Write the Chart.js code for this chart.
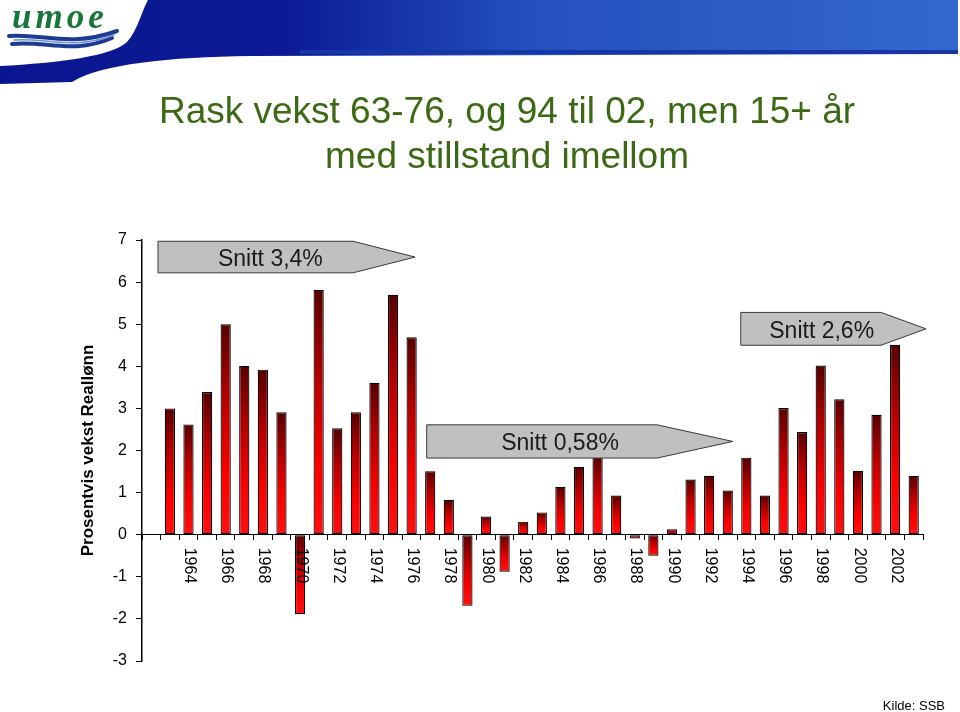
<!DOCTYPE html>
<html>
<head>
<meta charset="utf-8">
<script src="https://cdn.jsdelivr.net/npm/chart.js@4.4.1/dist/chart.umd.min.js"></script>
<style>
  html, body { margin: 0; padding: 0; background: #fff; }
  canvas { display: block; }
</style>
</head>
<body>
<canvas id="chart" width="960" height="712"></canvas>
<script>
// Real wage growth per year, percent (1962 is an empty slot on the axis)
const years = ['1962', '1963', '1964', '1965', '1966', '1967', '1968', '1969', '1970', '1971',
  '1972', '1973', '1974', '1975', '1976', '1977', '1978', '1979', '1980', '1981',
  '1982', '1983', '1984', '1985', '1986', '1987', '1988', '1989', '1990', '1991',
  '1992', '1993', '1994', '1995', '1996', '1997', '1998', '1999', '2000', '2001',
  '2002', '2003']
const growth = [null, 3.0, 2.62, 3.39, 5.0, 4.01, 3.92, 2.91, -1.89, 5.82,
  2.53, 2.91, 3.61, 5.70, 4.69, 1.51, 0.83, -1.69, 0.43, -0.88,
  0.31, 0.53, 1.14, 1.61, 1.85, 0.93, -0.09, -0.50, 0.13, 1.31,
  1.40, 1.05, 1.83, 0.93, 3.01, 2.44, 4.02, 3.22, 1.52, 2.85,
  4.51, 1.40]
const yTicks = { min: -3, max: 7, step: 1 }
const titleLines = ['Rask vekst 63-76, og 94 til 02, men 15+ år', 'med stillstand imellom']
const yTitle = 'Prosentvis vekst Reallønn'
const snittLabels = ['Snitt 3,4%', 'Snitt 0,58%', 'Snitt 2,6%']
const source = 'Kilde: SSB'

// arrow boxes, in axis units (x = category index, y = value)
const arrows = [
  { left: 0.36, body: 10.85, tip: 14.18, top: 6.97, bottom: 6.22 },
  { left: 14.81, body: 27.2, tip: 31.27, top: 2.61, bottom: 1.82 },
  { left: 31.7, body: 39.24, tip: 41.66, top: 5.28, bottom: 4.50 },
]

const FONT = '"Liberation Sans", Arial, sans-serif'
Chart.defaults.font.family = FONT

function drawHeader(ctx) {
  ctx.save()
  ctx.fillStyle = '#fff'
  ctx.fillRect(0, 0, 960, 712)

  // blue band with swoosh
  const g = ctx.createLinearGradient(0, 0, 960, 0)
  g.addColorStop(0, '#0a1690')
  g.addColorStop(0.3, '#0c1b95')
  g.addColorStop(0.55, '#2450bd')
  g.addColorStop(1, '#3468cf')
  ctx.fillStyle = g
  ctx.beginPath()
  ctx.moveTo(148, 0)
  ctx.lineTo(958, 0)
  ctx.lineTo(958, 54)
  ctx.lineTo(250, 56)
  ctx.bezierCurveTo(170, 57, 100, 64, 72, 82)
  ctx.lineTo(0, 84)
  ctx.lineTo(0, 66)
  ctx.bezierCurveTo(60, 63, 112, 56, 127, 42)
  ctx.bezierCurveTo(138, 30, 142, 10, 148, 0)
  ctx.closePath()
  ctx.fill()
  ctx.fillStyle = '#1537a6'
  ctx.fillRect(300, 50, 658, 4)

  // logo text
  ctx.fillStyle = '#17763a'
  ctx.font = 'italic bold 35px "Liberation Serif", serif'
  ctx.letterSpacing = '4px'
  ctx.textAlign = 'left'
  ctx.textBaseline = 'alphabetic'
  ctx.fillText('umoe', 12, 28)
  ctx.letterSpacing = '0px'

  // logo waves
  ctx.lineCap = 'round'
  ctx.strokeStyle = '#1c3b92'
  ctx.lineWidth = 4
  ctx.beginPath()
  ctx.moveTo(9, 36)
  ctx.bezierCurveTo(40, 33, 70, 48, 117, 31)
  ctx.stroke()
  ctx.beginPath()
  ctx.moveTo(12, 44)
  ctx.bezierCurveTo(45, 40, 72, 55, 112, 38)
  ctx.stroke()
  ctx.strokeStyle = '#6f8fd0'
  ctx.lineWidth = 1.5
  ctx.beginPath()
  ctx.moveTo(14, 40)
  ctx.bezierCurveTo(44, 37, 72, 51, 114, 35)
  ctx.stroke()

  // title
  ctx.fillStyle = '#3c6a14'
  ctx.font = '37px ' + FONT
  ctx.textAlign = 'center'
  ctx.fillText(titleLines[0], 507, 123)
  ctx.fillText(titleLines[1], 507, 168)

  // source
  ctx.fillStyle = '#000'
  ctx.font = '13px ' + FONT
  ctx.textAlign = 'right'
  ctx.fillText(source, 945, 710)
  ctx.restore()
}

const decor = {
  id: 'decor',
  beforeDraw(chart) {
    drawHeader(chart.ctx)
  },
  afterDatasetsDraw(chart) {
    const { ctx } = chart
    const x = chart.scales.x
    const y = chart.scales.y
    ctx.save()

    // "Snitt" arrow boxes
    arrows.forEach((a, i) => {
      const l = x.getPixelForValue(a.left)
      const b = x.getPixelForValue(a.body)
      const t = x.getPixelForValue(a.tip)
      const top = y.getPixelForValue(a.top)
      const bot = y.getPixelForValue(a.bottom)
      const mid = (top + bot) / 2
      ctx.beginPath()
      ctx.moveTo(l, top)
      ctx.lineTo(b, top)
      ctx.lineTo(t, mid)
      ctx.lineTo(b, bot)
      ctx.lineTo(l, bot)
      ctx.closePath()
      ctx.fillStyle = '#c0c0c0'
      ctx.fill()
      ctx.strokeStyle = '#3a3a3a'
      ctx.lineWidth = 1
      ctx.stroke()
      ctx.fillStyle = '#1a1a1a'
      ctx.font = '23px ' + FONT
      ctx.textAlign = 'center'
      ctx.textBaseline = 'alphabetic'
      ctx.fillText(snittLabels[i], (l + b) / 2 + 0.24 * (t - b), mid + 9)
    })

    // year labels, rotated clockwise, every second year
    const zero = y.getPixelForValue(0)
    ctx.fillStyle = '#000'
    ctx.font = '16px ' + FONT
    ctx.textAlign = 'left'
    ctx.textBaseline = 'middle'
    years.forEach((yr, i) => {
      if (growth[i] === null || Number(yr) % 2 !== 0) return
      ctx.save()
      ctx.translate(x.getPixelForValue(i) + 1, zero + 13)
      ctx.rotate(Math.PI / 2)
      ctx.fillText(yr, 0, 0)
      ctx.restore()
    })
    ctx.restore()
  }
}

function barFill(c) {
  const chart = c.chart
  const v = c.raw
  if (!chart.chartArea || v === null || v === undefined) return '#c00000'
  const ys = chart.scales.y
  const top = ys.getPixelForValue(Math.max(v, 0))
  const bot = ys.getPixelForValue(Math.min(v, 0))
  const g = chart.ctx.createLinearGradient(0, top, 0, bot + 0.01)
  g.addColorStop(0, '#580000')
  g.addColorStop(0.35, '#b40000')
  g.addColorStop(0.7, '#f80000')
  g.addColorStop(1, '#ff1010')
  return g
}

new Chart(document.getElementById('chart').getContext('2d'), {
  type: 'bar',
  data: {
    labels: years,
    datasets: [
      {
        data: growth,
        backgroundColor: barFill,
        borderColor: '#000',
        borderWidth: 1.2,
        borderSkipped: false,
        barPercentage: 0.55,
        categoryPercentage: 1,
      },
    ],
  },
  options: {
    responsive: false,
    animation: false,
    layout: { padding: { top: 240, right: 37, left: 0, bottom: 51 } },
    plugins: {
      legend: { display: false },
      tooltip: { enabled: false },
    },
    scales: {
      x: {
        position: { y: 0 },
        grid: { offset: true, drawOnChartArea: false, drawTicks: true, tickLength: 5, color: '#000' },
        border: { color: '#000', width: 1 },
        ticks: { display: false },
        afterFit: (s) => { s.height = 51 },
      },
      y: {
        min: yTicks.min,
        max: yTicks.max,
        ticks: {
          stepSize: yTicks.step,
          color: '#000',
          font: { size: 16 },
          padding: 9,
        },
        grid: { drawOnChartArea: false, tickLength: 6, color: '#000' },
        border: { color: '#000', width: 1.5 },
        title: {
          display: true,
          text: yTitle,
          color: '#000',
          font: { size: 17, weight: 'bold' },
          padding: { top: 78, bottom: 0 },
        },
        afterFit: (s) => { s.width = 142 },
      },
    },
  },
  plugins: [decor],
})
</script>
</body>
</html>
